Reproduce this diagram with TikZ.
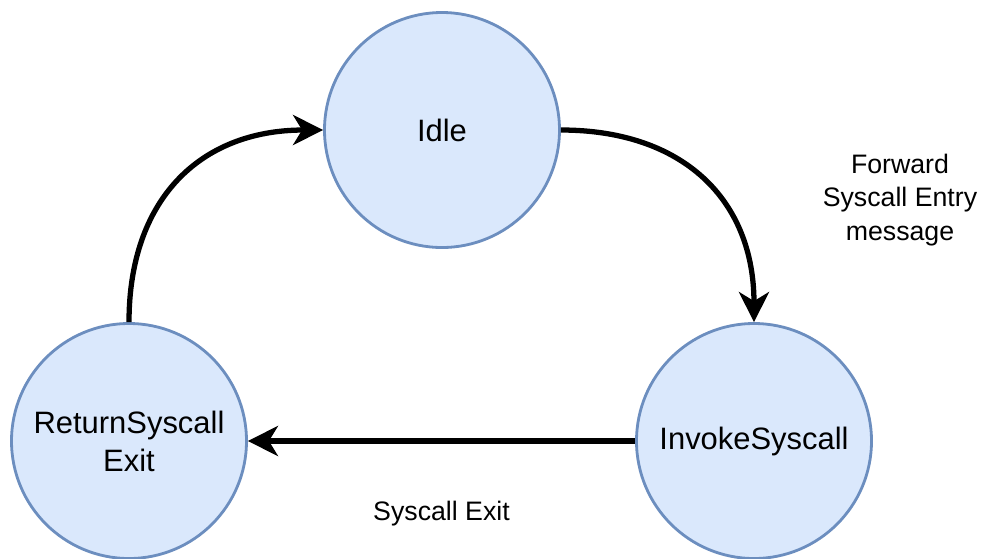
\documentclass[tikz,border=0pt]{standalone}
\usepackage{fontspec}
\setmainfont{Liberation Sans}
\usepackage{tikz}
\usetikzlibrary{arrows.meta, positioning}

\definecolor{stfill}{HTML}{DAE8FC}
\definecolor{stdraw}{HTML}{6C8EBF}

\begin{document}
\begin{tikzpicture}[
    state/.style={circle, draw=stdraw, fill=stfill, line width=1.6pt,
                  minimum size=4.7cm, inner sep=0pt, align=center,
                  font=\fontsize{17.6}{21.6}\selectfont},
    arrow/.style={-{Stealth[length=0.6cm, width=0.6cm, inset=0.18cm]}, line width=3pt},
    lbl/.style={align=center, font=\fontsize{15.2}{19}\selectfont}
]
\useasboundingbox (0,0) rectangle (19.68,-11.16);

\node[state] (idle) at (8.84,-2.6) {Idle};
\node[state] (invoke) at (15.08,-8.82) {InvokeSyscall};
\node[state] (ret) at (2.58,-8.82) {ReturnSyscall\\Exit};

\node[lbl] (fwd) at (18.0,-4.0) {Forward\\Syscall Entry\\message};

\draw[arrow] (idle.east) to[out=0, in=90, looseness=1.15] (invoke.north);
\draw[arrow] (invoke.west) -- node[lbl, midway, yshift=-1.46cm]{Syscall Exit} (ret.east);
\draw[arrow] (ret.north) to[out=90, in=180, looseness=1.15] (idle.west);
\end{tikzpicture}
\end{document}
